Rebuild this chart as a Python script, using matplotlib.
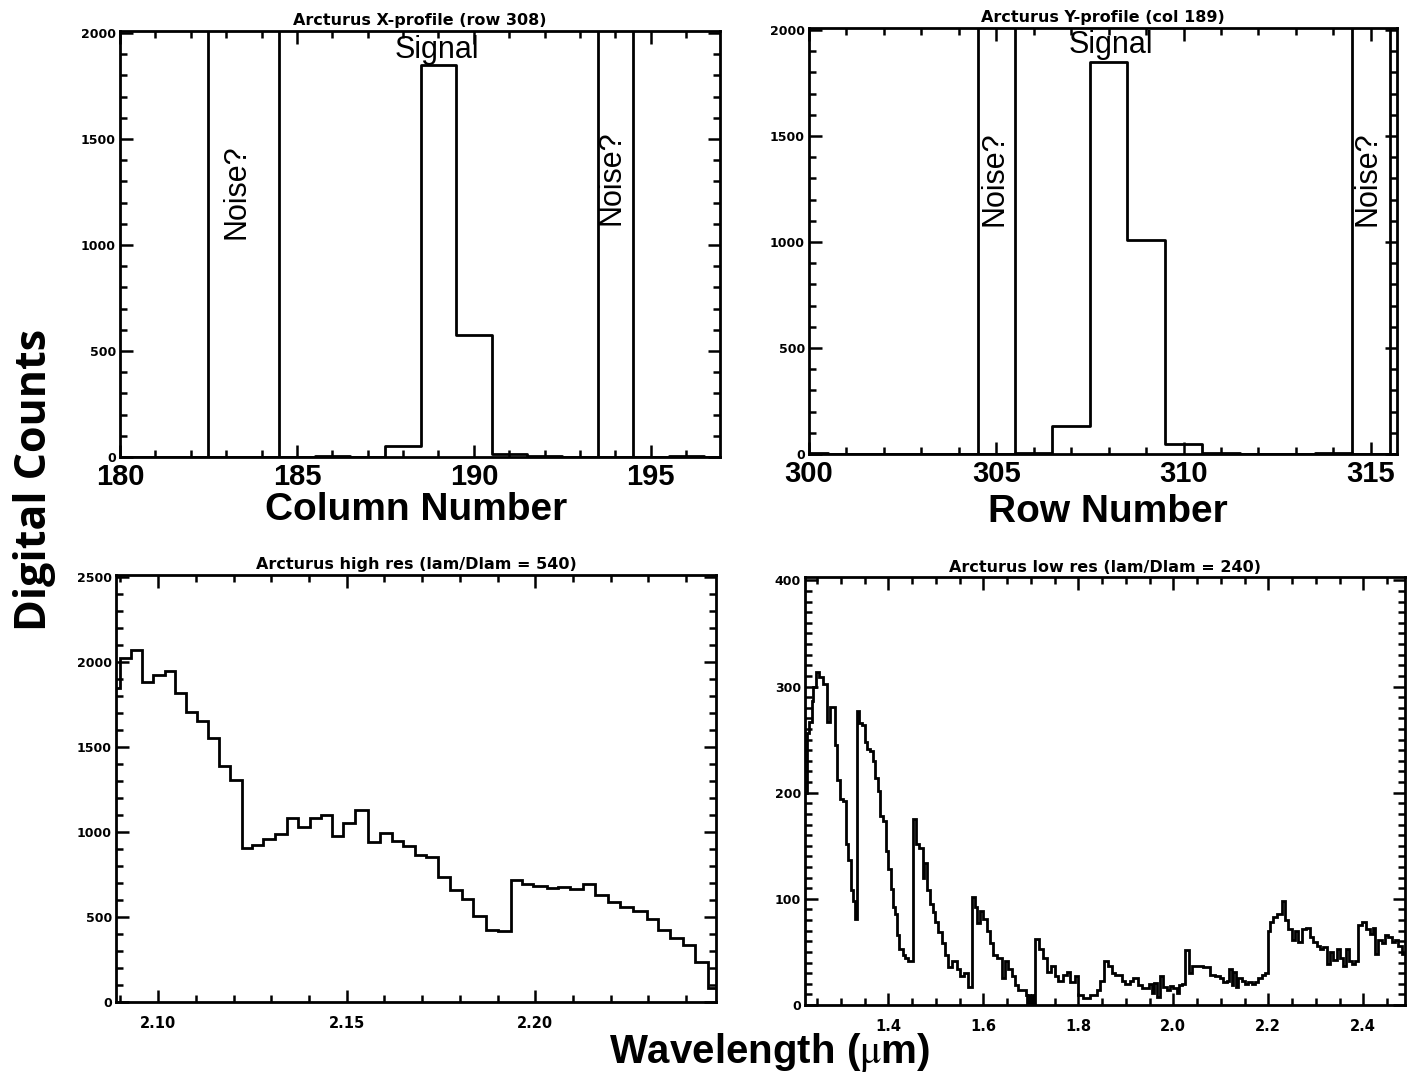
import matplotlib
matplotlib.use('Agg')
import matplotlib.pyplot as plt
from matplotlib.ticker import MultipleLocator, FormatStrFormatter

plt.rcParams['mathtext.fontset'] = 'stix'

# X-profile through row 308 (one value per column)
columns = [180, 181, 182, 183, 184, 185, 186, 187, 188, 189, 190, 191, 192, 193, 194, 195, 196, 197]
xprof_counts = [0, 0, 0, 0, 0, 0, 4, 0, 50, 1850, 576, 12, 5, 0, 0, 0, 3, 0]
xprof_marks = [182.5, 184.5, 193.5, 194.5]

# Y-profile through column 189
rows = [300, 301, 302, 303, 304, 305, 306, 307, 308, 309, 310, 311, 312, 313, 314, 315, 316]
yprof_counts = [3, 2, 0, 0, 0, 0, 6, 132, 1848, 1011, 45, 5, 0, 0, 3, 0, 0]
yprof_marks = [304.5, 305.5, 314.5, 315.5]

# high resolution spectrum (bin edges in micron, counts per bin)
hires_edges = [2.0888, 2.0898, 2.0929, 2.0958, 2.0987, 2.1018, 2.1044, 2.1073, 2.1104, 2.1133,
               2.1161, 2.1190, 2.1221, 2.1250, 2.1279, 2.1310, 2.1341, 2.1371, 2.1402, 2.1433,
               2.1460, 2.1491, 2.1522, 2.1557, 2.1588, 2.1619, 2.1650, 2.1681, 2.1711, 2.1741,
               2.1774, 2.1805, 2.1836, 2.1868, 2.1900, 2.1936, 2.1964, 2.1995, 2.2030, 2.2061,
               2.2092, 2.2127, 2.2158, 2.2194, 2.2225, 2.2260, 2.2295, 2.2326, 2.2357, 2.2393,
               2.2424, 2.2459, 2.2479]
hires_counts = [1843, 2020, 2069, 1879, 1922, 1945, 1818, 1706, 1651, 1549,
                1386, 1304, 906, 922, 961, 986, 1084, 1030, 1082, 1098,
                975, 1053, 1128, 941, 994, 945, 918, 863, 855, 735,
                657, 608, 506, 422, 416, 720, 696, 680, 671, 677,
                665, 692, 627, 588, 559, 533, 490, 422, 378, 333,
                235, 84]

# low resolution spectrum
lores_edges = [1.2246, 1.2281, 1.2337, 1.2386, 1.2421, 1.2477, 1.2547, 1.2632, 1.2702, 1.2772,
               1.2877, 1.2926, 1.2982, 1.3053, 1.3109, 1.3158, 1.3207, 1.3249, 1.3298, 1.3347,
               1.3389, 1.3439, 1.3509, 1.3558, 1.3614, 1.3670, 1.3719, 1.3775, 1.3825, 1.3895,
               1.3951, 1.4000, 1.4049, 1.4105, 1.4140, 1.4175, 1.4232, 1.4302, 1.4351, 1.4421,
               1.4526, 1.4582, 1.4653, 1.4723, 1.4758, 1.4807, 1.4877, 1.4933, 1.4982, 1.5053,
               1.5123, 1.5193, 1.5263, 1.5333, 1.5439, 1.5509, 1.5593, 1.5684, 1.5754, 1.5825,
               1.5874, 1.5930, 1.6000, 1.6070, 1.6140, 1.6211, 1.6281, 1.6386, 1.6456, 1.6526,
               1.6596, 1.6667, 1.6737, 1.6898, 1.6930, 1.6960, 1.6990, 1.7020, 1.7050, 1.7088,
               1.7179, 1.7263, 1.7333, 1.7425, 1.7509, 1.7579, 1.7684, 1.7754, 1.7825, 1.7930,
               1.8000, 1.8105, 1.8246, 1.8386, 1.8456, 1.8540, 1.8632, 1.8702, 1.8772, 1.8912,
               1.8982, 1.9088, 1.9158, 1.9263, 1.9333, 1.9495, 1.9544, 1.9593, 1.9649, 1.9719,
               1.9775, 1.9860, 1.9930, 2.0000, 2.0070, 2.0126, 2.0175, 2.0246, 2.0337, 2.0386,
               2.0632, 2.0772, 2.0877, 2.0982, 2.1053, 2.1123, 2.1179, 2.1228, 2.1263, 2.1319,
               2.1368, 2.1439, 2.1509, 2.1579, 2.1649, 2.1719, 2.1789, 2.1860, 2.1930, 2.2000,
               2.2035, 2.2105, 2.2189, 2.2281, 2.2351, 2.2421, 2.2491, 2.2561, 2.2632, 2.2702,
               2.2793, 2.2877, 2.2947, 2.3018, 2.3088, 2.3158, 2.3228, 2.3298, 2.3368, 2.3439,
               2.3509, 2.3579, 2.3635, 2.3705, 2.3754, 2.3825, 2.3895, 2.3965, 2.4056, 2.4140,
               2.4196, 2.4246, 2.4316, 2.4386, 2.4456, 2.4526, 2.4596, 2.4667, 2.4737, 2.4807,
               2.4877]
lores_counts = [200, 256, 267, 286, 300, 314, 309, 302, 267, 281,
                245, 212, 194, 192, 152, 137, 108, 98, 81, 277,
                266, 264, 248, 241, 239, 230, 214, 202, 178, 173,
                145, 128, 109, 92, 86, 66, 53, 47, 44, 41,
                175, 152, 148, 120, 134, 108, 95, 88, 78, 69,
                58, 47, 36, 41, 34, 27, 30, 17, 102, 92,
                77, 89, 81, 70, 58, 47, 44, 25, 41, 34,
                27, 19, 14, 9, 0, 9, 0, 9, 0, 62,
                53, 44, 31, 37, 27, 23, 28, 31, 22, 27,
                9, 7, 9, 14, 23, 41, 37, 30, 28, 23,
                20, 23, 25, 19, 16, 20, 11, 21, 8, 27,
                17, 14, 18, 16, 11, 19, 20, 52, 30, 37,
                36, 28, 27, 25, 22, 23, 34, 19, 31, 17,
                25, 23, 20, 22, 20, 22, 25, 28, 30, 70,
                78, 83, 86, 98, 80, 72, 61, 70, 59, 72,
                73, 64, 59, 56, 53, 55, 39, 50, 42, 53,
                44, 37, 53, 41, 39, 41, 75, 78, 72, 67,
                73, 48, 61, 58, 66, 64, 59, 61, 56, 48]

LW = 2.0
title_kw = dict(fontsize=11.5, fontweight='bold', family='DejaVu Sans')
note_kw = dict(ha='center', va='center', fontsize=22, family='Liberation Sans')


def idl_style(ax, xmaj, xmin, ymaj, ymin, xlabsize):
    # IDL-like box: inward ticks on all four sides
    ax.xaxis.set_major_locator(MultipleLocator(xmaj))
    ax.xaxis.set_minor_locator(MultipleLocator(xmin))
    ax.yaxis.set_major_locator(MultipleLocator(ymaj))
    ax.yaxis.set_minor_locator(MultipleLocator(ymin))
    ax.tick_params(which='both', direction='in', top=True, right=True, width=1.8)
    ax.tick_params(which='major', length=9)
    ax.tick_params(which='minor', length=5)
    ax.tick_params(axis='y', pad=3)
    for s in ax.spines.values():
        s.set_linewidth(2)
    for lab in ax.get_yticklabels():
        lab.set_fontsize(9)
        lab.set_fontweight('bold')
    for lab in ax.get_xticklabels():
        lab.set_fontsize(xlabsize)
        lab.set_fontweight('bold')


fig = plt.figure(figsize=(14.16, 10.75), dpi=100)

# Top left: X-profile
ax1 = fig.add_axes([0.0847, 0.5749, 0.4237, 0.3963])
ax1.step(columns, xprof_counts, where='mid', color='black', lw=LW)
for m in xprof_marks:
    ax1.axvline(m, color='black', lw=LW)
ax1.set_xlim(180, 196.95)
ax1.set_ylim(0, 2010)
idl_style(ax1, 5, 1, 500, 100, 21)
for lab in ax1.get_xticklabels():
    lab.set_family('Liberation Sans')
ax1.tick_params(axis='x', pad=4)
ax1.set_title('Arcturus X-profile (row 308)', pad=4, **title_kw)
ax1.text(188.95, 1920, 'Signal', **note_kw)
ax1.text(183.3, 1250, 'Noise?', rotation=90, **note_kw)
ax1.text(193.9, 1320, 'Noise?', rotation=90, **note_kw)

# Top right: Y-profile
ax2 = fig.add_axes([0.5713, 0.5777, 0.4153, 0.3963])
ax2.step(rows, yprof_counts, where='mid', color='black', lw=LW)
for m in yprof_marks:
    ax2.axvline(m, color='black', lw=LW)
ax2.set_xlim(300, 315.7)
ax2.set_ylim(0, 2010)
idl_style(ax2, 5, 1, 500, 100, 21)
for lab in ax2.get_xticklabels():
    lab.set_family('Liberation Sans')
ax2.tick_params(axis='x', pad=4)
ax2.set_title('Arcturus Y-profile (col 189)', pad=4, **title_kw)
ax2.text(308.05, 1930, 'Signal', **note_kw)
ax2.text(304.95, 1300, 'Noise?', rotation=90, **note_kw)
ax2.text(314.92, 1300, 'Noise?', rotation=90, **note_kw)

# Bottom left: high res spectrum
ax3 = fig.add_axes([0.0819, 0.0679, 0.4237, 0.3972])
ax3.stairs(hires_counts, hires_edges, baseline=None, color='black', lw=LW)
ax3.set_xlim(hires_edges[0], hires_edges[-1])
ax3.set_ylim(0, 2510)
idl_style(ax3, 0.05, 0.01, 500, 100, 10.5)
ax3.xaxis.set_major_formatter(FormatStrFormatter('%.2f'))
ax3.tick_params(axis='x', pad=10)
ax3.set_title('Arcturus high res (lam/Dlam = 540)', pad=4, **title_kw)

# Bottom right: low res spectrum
ax4 = fig.add_axes([0.5685, 0.0651, 0.4237, 0.398])
ax4.stairs(lores_counts, lores_edges, baseline=None, color='black', lw=LW)
ax4.set_xlim(lores_edges[0], lores_edges[-1])
ax4.set_ylim(0, 403)
idl_style(ax4, 0.2, 0.05, 100, 10, 10.5)
ax4.xaxis.set_major_formatter(FormatStrFormatter('%.1f'))
ax4.tick_params(axis='x', pad=10)
ax4.set_title('Arcturus low res (lam/Dlam = 240)', pad=4, **title_kw)

# shared labels
fig.text(416 / 1416, 1 - 510 / 1075, 'Column Number', ha='center', va='center',
         fontsize=28, fontweight='bold', family='Liberation Sans')
fig.text(1108 / 1416, 1 - 512 / 1075, 'Row Number', ha='center', va='center',
         fontsize=28, fontweight='bold', family='Liberation Sans')
fig.text(35 / 1416, 1 - 480 / 1075, 'Digital Counts', ha='center', va='center', rotation=90,
         fontsize=31, fontweight='bold', family='Open Sans')
fig.text(770 / 1416, 1 - 1053 / 1075, r'Wavelength ($\mathrm{\mu}$m)', ha='center', va='center',
         fontsize=29, fontweight='bold', family='Liberation Sans')

fig.savefig('out.png', dpi=100)
